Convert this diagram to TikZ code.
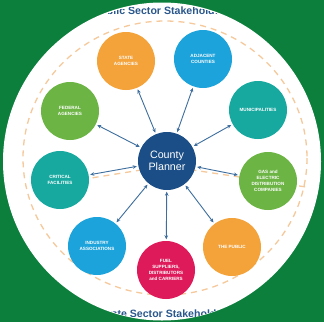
\documentclass[tikz,border=0pt]{standalone}
\usepackage{fontspec}
\setmainfont{Liberation Sans}
\usetikzlibrary{arrows.meta}
\definecolor{bggreen}{HTML}{0B7F3B}
\definecolor{ringorange}{HTML}{F5C99B}
\definecolor{titleblue}{HTML}{2A578C}
\definecolor{linkblue}{HTML}{3D6E9E}
\definecolor{plannerblue}{HTML}{1B4E86}
\definecolor{cOrange}{HTML}{F4A23A}
\definecolor{cBlue}{HTML}{1CA3DC}
\definecolor{cGreen}{HTML}{6CB444}
\definecolor{cTeal}{HTML}{17A9A0}
\definecolor{cRed}{HTML}{DF1A5A}
\tikzset{
  stake/.style={circle, minimum size=58pt, inner sep=0pt, text=white, align=center,
    font=\bfseries\fontsize{4.6}{6.2}\selectfont},
  link/.style={{Stealth[length=4pt,width=3.6pt]}-{Stealth[length=4pt,width=3.6pt]},
    draw=linkblue, line width=0.9pt, shorten <=1.5pt, shorten >=1.5pt},
  ring/.style={draw=ringorange, line width=1.3pt, dash pattern=on 6pt off 5pt},
  title/.style={text=titleblue, font=\bfseries\fontsize{10.6}{12}\selectfont}
}

\begin{document}
\begin{tikzpicture}[x=1pt,y=-1pt]
    \fill[bggreen] (0,0) rectangle (324,322);
    \useasboundingbox (0,0) rectangle (324,322);
    \fill[white] (162,161.5) circle (159);

    \begin{scope}
      \clip (162,161.5) circle (158);
      \node[title] (pubtitle) at (162,10.5) {Public Sector Stakeholders};
      \node[title] (privtitle) at (162,313.5) {Private Sector Stakeholders};
    \end{scope}

    \draw[ring] (165,158) ellipse (142 and 137);
    \coordinate (divL) at (60,183);
    \coordinate (divM) at (166,166);
    \coordinate (divR) at (306,187);
    \draw[ring] (divL) -- (divM) -- (divR);

    \node[circle, fill=plannerblue, minimum size=58pt, inner sep=0pt, text=white,
      align=center, font=\fontsize{10.7}{11.5}\selectfont] (planner) at (167,161) {County\\Planner};

    \node[stake, fill=cOrange] (state) at (126,61) {STATE\\AGENCIES};
    \node[stake, fill=cBlue] (adjacent) at (203,59) {ADJACENT\\COUNTIES};
    \node[stake, fill=cGreen] (federal) at (70,111) {FEDERAL\\AGENCIES};
    \node[stake, fill=cTeal] (municip) at (258,110) {MUNICIPALITIES};
    \node[stake, fill=cTeal] (critical) at (60,180) {CRITICAL\\FACILITIES};
    \node[stake, fill=cGreen] (gaselec) at (268,181) {GAS and\\ELECTRIC\\DISTRIBUTION\\COMPANIES};
    \node[stake, fill=cBlue] (industry) at (97,246) {INDUSTRY\\ASSOCIATIONS};
    \node[stake, fill=cRed] (fuel) at (166,270) {FUEL\\SUPPLIERS,\\DISTRIBUTORS\\and CARRIERS};
    \node[stake, fill=cOrange] (public) at (232,247) {THE PUBLIC};

    \draw
      (planner) edge[link] (state)
      (planner) edge[link] (adjacent)
      (planner) edge[link] (federal)
      (planner) edge[link] (municip)
      (planner) edge[link] (critical)
      (planner) edge[link] (gaselec)
      (planner) edge[link] (industry)
      (planner) edge[link] (fuel)
      (planner) edge[link] (public);
\end{tikzpicture}
\end{document}
